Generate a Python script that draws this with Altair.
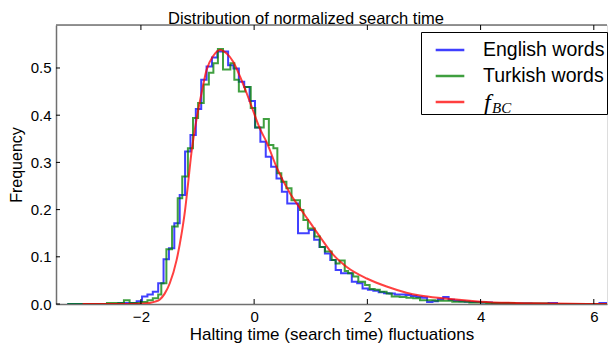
import altair as alt
import pandas as pd

# ---------------- data ----------------
series_names = ["English words", "Turkish words", "f_BC"]
series_colors = ["#0000ff", "#008000", "#ff0000"]

# English words histogram (left bin edges, step heights)
blue_x = [-3.30, -2.40, -2.075, -1.98, -1.885, -1.79, -1.695, -1.60, -1.505, -1.41,
          -1.315, -1.22, -1.125, -1.03, -0.935, -0.84, -0.745, -0.65, -0.555, -0.46,
          -0.365, -0.27, -0.175, -0.08, 0.015, 0.11, 0.205, 0.30, 0.395, 0.49,
          0.585, 0.68, 0.775, 0.87, 0.965, 1.06, 1.155, 1.25, 1.345, 1.44,
          1.535, 1.63, 1.725, 1.82, 1.915, 2.01, 2.105, 2.20, 2.295, 2.39,
          2.485, 2.58, 2.675, 2.77, 2.865, 2.96, 3.055, 3.15, 3.245, 3.34,
          3.435, 3.53, 3.625, 3.72, 3.815, 3.91, 4.005, 4.20, 4.50, 4.90,
          5.20, 5.35, 6.10, 6.30, 6.40]
blue_y = [0.0, 0.002, 0.006, 0.016, 0.020, 0.026, 0.044, 0.095, 0.118, 0.171,
          0.231, 0.323, 0.358, 0.413, 0.475, 0.503, 0.522, 0.535, 0.535, 0.506,
          0.499, 0.471, 0.460, 0.430, 0.374, 0.344, 0.312, 0.291, 0.266, 0.238,
          0.213, 0.213, 0.150, 0.150, 0.157, 0.136, 0.121, 0.107, 0.093, 0.072,
          0.065, 0.065, 0.047, 0.044, 0.033, 0.030, 0.028, 0.025, 0.023, 0.022,
          0.020, 0.020, 0.019, 0.017, 0.015, 0.013, 0.004, 0.006, 0.010, 0.015,
          0.009, 0.007, 0.006, 0.005, 0.004, 0.004, 0.003, 0.002, 0.001, 0.0005,
          0.002, 0.0, 0.002, 0.0, 0.0]

# Turkish words histogram
green_x = [-3.30, -2.60, -2.30, -2.20, -2.00, -1.885, -1.79, -1.695, -1.64, -1.55,
           -1.45, -1.35, -1.27, -1.17, -1.08, -0.99, -0.89, -0.80, -0.72, -0.64,
           -0.55, -0.42, -0.35, -0.27, -0.16, -0.06, 0.02, 0.17, 0.26, 0.34,
           0.41, 0.48, 0.57, 0.66, 0.81, 0.87, 0.95, 1.07, 1.16, 1.25,
           1.37, 1.44, 1.51, 1.60, 1.66, 1.75, 1.84, 1.96, 2.04, 2.13,
           2.22, 2.34, 2.43, 2.57, 2.69, 2.81, 2.93, 3.20, 3.50, 3.80,
           4.10, 4.60, 5.20, 6.40]
green_y = [0.0, 0.002, 0.008, 0.002, 0.004, 0.008, 0.012, 0.020, 0.044, 0.116,
           0.164, 0.224, 0.270, 0.330, 0.394, 0.426, 0.465, 0.490, 0.510, 0.540,
           0.497, 0.510, 0.475, 0.450, 0.460, 0.415, 0.374, 0.392, 0.337, 0.330,
           0.277, 0.259, 0.245, 0.220, 0.199, 0.178, 0.160, 0.143, 0.121, 0.111,
           0.093, 0.086, 0.092, 0.070, 0.065, 0.058, 0.047, 0.040, 0.032, 0.030,
           0.026, 0.022, 0.016, 0.015, 0.013, 0.012, 0.008, 0.007, 0.005, 0.003,
           0.002, 0.001, 0.0, 0.0]

# fitted f_BC curve
bc_x = [-3.03, -2.30, -2.00, -1.85, -1.75, -1.67, -1.58, -1.49, -1.37, -1.28,
        -1.22, -1.17, -1.11, -1.02, -0.93, -0.84, -0.72, -0.60, -0.49, -0.37,
        -0.25, -0.13, -0.02, 0.10, 0.22, 0.40, 0.63, 0.81, 0.98, 1.16,
        1.40, 1.63, 1.99, 2.34, 2.69, 2.93, 3.33, 4.00, 4.90, 5.60, 6.40]
bc_y = [0.0, 0.0, 0.0005, 0.002, 0.005, 0.009, 0.022, 0.044, 0.093, 0.150,
        0.199, 0.252, 0.318, 0.390, 0.446, 0.496, 0.526, 0.538, 0.531, 0.513,
        0.482, 0.446, 0.410, 0.372, 0.343, 0.289, 0.235, 0.203, 0.174, 0.143,
        0.104, 0.079, 0.054, 0.037, 0.024, 0.018, 0.012, 0.005, 0.0015, 0.0005, 0.0]

x_ticks = [-2, 0, 2, 4, 6]
y_ticks = [0.0, 0.1, 0.2, 0.3, 0.4, 0.5]

title_text = "Distribution of normalized search time"
x_title = "Halting time (search time) fluctuations"
y_title = "Frequency"

# ---------------- layout ----------------
W, H = 551, 279
X_DOMAIN = [-3.5, 6.233]
Y_DOMAIN = [0, 0.5911]
FONT = "Liberation Sans"
SPINE = "#707070"

hist_df = pd.concat([
    pd.DataFrame({"x": blue_x, "y": blue_y, "series": series_names[0], "i": range(len(blue_x))}),
    pd.DataFrame({"x": green_x, "y": green_y, "series": series_names[1], "i": range(len(green_x))}),
], ignore_index=True)
bc_df = pd.DataFrame({"x": bc_x, "y": bc_y, "series": series_names[2], "i": range(len(bc_x))})

xscale = alt.Scale(domain=X_DOMAIN, nice=False, zero=False)
yscale = alt.Scale(domain=Y_DOMAIN, nice=False, zero=True)
color = alt.Color(
    "series:N",
    scale=alt.Scale(domain=series_names, range=series_colors),
    legend=alt.Legend(
        title=None, orient="none", legendX=365, legendY=7,
        direction="vertical",
        strokeColor="black", cornerRadius=0, padding=2,
        symbolType="stroke", symbolSize=820, symbolStrokeWidth=2.5,
        symbolOpacity=0.75, symbolOffset=11,
        labelFont=FONT, labelFontSize=19.5, labelColor="black", labelOffset=17,
        rowPadding=0, labelExpr="datum.label == 'f_BC' ? '' : datum.label + '\u00a0\u00a0'",
    ),
)

x_axis = alt.Axis(
    values=x_ticks, format="d", ticks=False, grid=False, title=x_title,
    labelFont=FONT, labelFontSize=15, labelColor="black", labelPadding=5,
    titleFont=FONT, titleFontSize=17, titleFontWeight="normal", titleColor="black",
    titlePadding=2, domainColor=SPINE, domainWidth=1.5)
y_axis = alt.Axis(
    values=y_ticks, format=".1f", ticks=False, grid=False, title=y_title,
    labelFont=FONT, labelFontSize=15, labelColor="black", labelPadding=5,
    titleFont=FONT, titleFontSize=16, titleFontWeight="normal", titleColor="black",
    titlePadding=6, domainColor=SPINE, domainWidth=1.5)
x_enc = alt.X("x:Q", scale=xscale, axis=x_axis)
y_enc = alt.Y("y:Q", scale=yscale, axis=y_axis)

hist = alt.Chart(hist_df).mark_line(
    interpolate="step-after", strokeWidth=2, opacity=0.75, clip=True
).encode(x=x_enc, y=y_enc, color=color, order="i:Q")

fbc = alt.Chart(bc_df).mark_line(
    interpolate="monotone", strokeWidth=2, opacity=0.75, clip=True
).encode(x=x_enc, y=y_enc, color=color, order="i:Q")

# top spine
top_spine = alt.Chart(pd.DataFrame({"a": [0]})).mark_rule(
    color=SPINE, strokeWidth=1.5
).encode(x=alt.value(0), x2=alt.value(W), y=alt.value(0))

# inward tick marks
xt_df = pd.DataFrame({"x": x_ticks})
yt_df = pd.DataFrame({"y": y_ticks})
xt_bottom = alt.Chart(xt_df).mark_rule(color="black", strokeWidth=1).encode(
    x=x_enc, y=alt.value(H), y2=alt.value(H - 5))
xt_top = alt.Chart(xt_df).mark_rule(color="black", strokeWidth=1).encode(
    x=x_enc, y=alt.value(0), y2=alt.value(5))
yt_left = alt.Chart(yt_df).mark_rule(color="black", strokeWidth=1).encode(
    y=y_enc, x=alt.value(0), x2=alt.value(4))

# chart title (drawn as text so it fits inside the page's top margin)
title_mark = alt.Chart(pd.DataFrame({"s": [title_text]})).mark_text(
    font=FONT, fontSize=16.5, align="center", baseline="alphabetic", color="black"
).encode(x=alt.value(250), y=alt.value(-1.5), text="s:N")

# math label for the third legend entry
f_main = alt.Chart(pd.DataFrame({"s": ["f"]})).mark_text(
    font="Liberation Serif", fontStyle="italic", fontSize=24, align="left",
    baseline="alphabetic", color="black"
).encode(x=alt.value(428), y=alt.value(85), text="s:N")
f_sub = alt.Chart(pd.DataFrame({"s": ["BC"]})).mark_text(
    font="Liberation Serif", fontStyle="italic", fontSize=15, align="left",
    baseline="alphabetic", color="black"
).encode(x=alt.value(436), y=alt.value(88), text="s:N")

chart = alt.layer(
    hist, fbc, top_spine, xt_bottom, xt_top, yt_left, title_mark, f_main, f_sub
).resolve_scale(x="shared", y="shared").properties(
    width=W, height=H,
    autosize=alt.AutoSizeParams(type="none"),
    padding={"left": 48, "top": 17, "right": 1, "bottom": 40},
).configure_view(stroke=None).configure(background="white")

chart.save("out.html", embed_options={"renderer": "svg", "actions": False})
